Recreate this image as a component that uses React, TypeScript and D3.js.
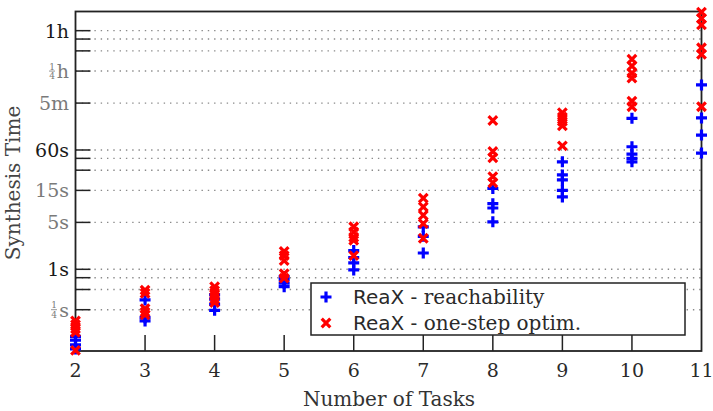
import React, { useEffect, useRef } from 'react';
import * as d3 from 'd3';

// number of tasks on the x axis
const tasks = [2, 3, 4, 5, 6, 7, 8, 9, 10, 11];

// synthesis times in seconds, one list per task count
const reachability = [
  [0.1, 0.088, 0.075, 0.065],
  [0.35, 0.19, 0.17],
  [0.42, 0.36, 0.3, 0.245],
  [0.78, 0.7, 0.62, 0.55],
  [1.9, 1.5, 1.25, 0.98],
  [4.3, 3.1, 1.75],
  [16, 9.5, 8.2, 5.1],
  [40, 25.5, 21.5, 15, 12],
  [178, 67, 52, 45, 40],
  [560, 180, 100, 54],
];
const oneStepOptim = [
  [0.17, 0.15, 0.13, 0.115, 0.062],
  [0.49, 0.44, 0.26, 0.23, 0.21],
  [0.55, 0.48, 0.42, 0.36, 0.32],
  [1.85, 1.6, 1.35, 0.86, 0.74],
  [4.3, 3.6, 3.0, 2.7, 1.6],
  [11.5, 8.5, 6.4, 4.8, 2.9],
  [165, 57, 46, 24, 19.5],
  [215, 185, 160, 138, 69],
  [1350, 1070, 840, 710, 320, 265],
  [6800, 5500, 4400, 2000, 1600, 265],
];

// y ticks (seconds)
const gridTicks = [0.25, 0.5, 0.75, 1, 5, 15, 30, 45, 60, 300, 900, 1800, 2700, 3600];
const labelTicks = [0.25, 1, 5, 15, 60, 300, 900, 3600];
const labelTexts = ['¼s', '1s', '5s', '15s', '60s', '5m', '¼h', '1h'];
const labelMajor = [false, true, false, false, true, false, false, true];

const legendNames = ['reachability', 'one-step optim.'];

const W = 713, H = 411;
const margin = { left: 75.5, right: 11.5, top: 11.5, bottom: 60 };

export default function App() {
  const ref = useRef<SVGSVGElement>(null);

  useEffect(() => {
    const svg = d3.select(ref.current);
    svg.selectAll('*').remove();
    const serif = 'DejaVu Serif';
    const x0 = margin.left, x1 = W - margin.right;
    const y0 = H - margin.bottom, y1 = margin.top;

    var x = d3.scaleLinear().domain([2, 11]).range([x0, x1]);
    var y = d3.scaleLog().domain([0.0606, 6950]).range([y0, y1]);

    // dotted grid
    svg.append('g')
      .selectAll('line')
      .data(gridTicks)
      .enter().append('line')
      .attr('x1', x0).attr('x2', x1)
      .attr('y1', d => y(d)).attr('y2', d => y(d))
      .attr('stroke', '#8a8a8a')
      .attr('stroke-width', 1.4)
      .attr('stroke-dasharray', '1.4 4.9');

    // y ticks inside the plot
    svg.append('g')
      .selectAll('line')
      .data(gridTicks)
      .enter().append('line')
      .attr('x1', x0).attr('x2', x0 + 15)
      .attr('y1', d => y(d)).attr('y2', d => y(d))
      .attr('stroke', '#222')
      .attr('stroke-width', 1.5);

    // x ticks
    svg.append('g')
      .selectAll('line')
      .data(tasks.slice(1, -1))
      .enter().append('line')
      .attr('x1', d => x(d)).attr('x2', d => x(d))
      .attr('y1', y0).attr('y2', y0 - 16)
      .attr('stroke', '#222')
      .attr('stroke-width', 1.5);

    // frame
    svg.append('rect')
      .attr('x', x0).attr('y', y1)
      .attr('width', x1 - x0).attr('height', y0 - y1)
      .attr('fill', 'none')
      .attr('stroke', '#222')
      .attr('stroke-width', 1.8);

    // y labels
    const labels = svg.append('g').attr('font-family', serif);
    labelTicks.forEach((v, i) => {
      const ty = y(v);
      const txt = labelTexts[i];
      const col = labelMajor[i] ? '#1a1a1a' : '#7a7a7a';
      if (txt.startsWith('¼')) {
        const unit = txt.slice(1);
        labels.append('text')
          .attr('x', 69).attr('y', ty + 7)
          .attr('text-anchor', 'end')
          .attr('font-size', 19)
          .attr('fill', col)
          .text(unit);
        const fx = unit === 'h' ? 52 : 54;
        labels.append('text')
          .attr('x', fx).attr('y', ty - 1.5)
          .attr('text-anchor', 'middle')
          .attr('font-size', 9)
          .attr('fill', col)
          .text('1');
        labels.append('line')
          .attr('x1', fx - 3).attr('x2', fx + 3)
          .attr('y1', ty).attr('y2', ty)
          .attr('stroke', col).attr('stroke-width', 0.8);
        labels.append('text')
          .attr('x', fx).attr('y', ty + 8)
          .attr('text-anchor', 'middle')
          .attr('font-size', 9)
          .attr('fill', col)
          .text('4');
      } else {
        labels.append('text')
          .attr('x', 69).attr('y', ty + 7)
          .attr('text-anchor', 'end')
          .attr('font-size', 19)
          .attr('fill', col)
          .text(txt);
      }
    });

    // x labels
    svg.append('g')
      .selectAll('text')
      .data(tasks)
      .enter().append('text')
      .attr('x', d => x(d)).attr('y', 377)
      .attr('text-anchor', 'middle')
      .attr('font-family', serif)
      .attr('font-size', 19)
      .attr('fill', '#2a2a2a')
      .text(d => d);

    // axis titles
    svg.append('text')
      .attr('x', 389).attr('y', 406)
      .attr('text-anchor', 'middle')
      .attr('font-family', serif)
      .attr('font-size', 20)
      .attr('fill', '#333')
      .text('Number of Tasks');
    svg.append('text')
      .attr('transform', 'translate(20,183) rotate(-90)')
      .attr('text-anchor', 'middle')
      .attr('font-family', serif)
      .attr('font-size', 20)
      .attr('fill', '#444')
      .text('Synthesis Time');

    const plus = 'M-5.5,0H5.5M0,-5.5V5.5';
    const cross = 'M-4.3,-4.3L4.3,4.3M-4.3,4.3L4.3,-4.3';

    // points
    const pts = (data: number[][]) =>
      data.flatMap((list, i) => list.map(v => ({ t: tasks[i], v })));

    svg.append('g')
      .selectAll('path')
      .data(pts(reachability))
      .enter().append('path')
      .attr('d', plus)
      .attr('transform', d => `translate(${x(d.t)},${y(d.v)})`)
      .attr('stroke', '#0000ff')
      .attr('stroke-width', 3.2)
      .attr('fill', 'none');

    svg.append('g')
      .selectAll('path')
      .data(pts(oneStepOptim))
      .enter().append('path')
      .attr('d', cross)
      .attr('transform', d => `translate(${x(d.t)},${y(d.v)})`)
      .attr('stroke', '#ff0000')
      .attr('stroke-width', 3.2)
      .attr('fill', 'none');

    // legend
    const lg = svg.append('g').attr('transform', 'translate(311,283)');
    lg.append('rect')
      .attr('width', 374).attr('height', 52)
      .attr('fill', '#fff')
      .attr('stroke', '#222')
      .attr('stroke-width', 1.5);
    legendNames.forEach((name, i) => {
      const ly = 14 + i * 26;
      lg.append('path')
        .attr('d', i === 0 ? plus : cross)
        .attr('transform', `translate(15,${ly})`)
        .attr('stroke', i === 0 ? '#0000ff' : '#ff0000')
        .attr('stroke-width', 3.2)
        .attr('fill', 'none');
      const sans = lg.append('text')
        .attr('x', 42).attr('y', ly + 7)
        .attr('font-family', 'DejaVu Sans')
        .attr('font-size', 20)
        .attr('fill', '#2a2a2a')
        .text('ReaX');
      const wSans = (sans.node() as SVGTextElement).getComputedTextLength();
      lg.append('text')
        .attr('x', 42 + wSans).attr('y', ly + 7)
        .attr('font-family', serif)
        .attr('font-size', 20)
        .attr('fill', '#2a2a2a')
        .attr('xml:space', 'preserve')
        .style('white-space', 'pre')
        .text(' - ' + name);
    });
  }, []);

  return (
    <svg
      ref={ref}
      width={W}
      height={H}
      style={{ position: 'absolute', left: 0, top: 0, background: '#fff' }}
    />
  );
}
